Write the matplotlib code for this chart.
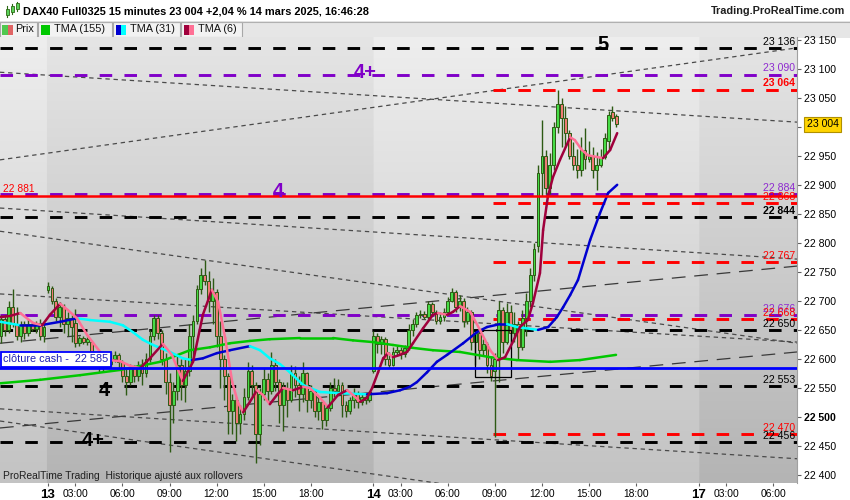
import matplotlib
matplotlib.use("Agg")
import matplotlib.pyplot as plt
import numpy as np
from matplotlib.collections import LineCollection
from matplotlib.patches import Rectangle
from matplotlib.lines import Line2D

plt.rcParams['font.family'] = ['Liberation Sans', 'DejaVu Sans']

# ---- 15 minute candles (bar 12 = 13 mars 01:15, bar 95 = 14 mars 01:15) ----
opens = [22640, 22668, 22650, 22690, 22660, 22640, 22660, 22645, 22660, 22652, 22662, 22640,
         22718, 22722, 22700, 22672, 22690, 22660, 22670, 22662, 22628, 22636, 22630, 22630,
         22605, 22595, 22588, 22600, 22592, 22600, 22606, 22595, 22570, 22560, 22585, 22570,
         22590, 22575, 22600, 22640, 22670, 22645, 22600, 22560, 22520, 22545, 22590, 22555,
         22580, 22640, 22665, 22720, 22745, 22735, 22700, 22715, 22640, 22600, 22570, 22510,
         22530, 22490, 22505, 22535, 22580, 22555, 22470, 22540, 22565, 22545, 22590, 22560,
         22520, 22550, 22530, 22575, 22555, 22540, 22575, 22530, 22545, 22510, 22525, 22495,
         22515, 22550, 22545, 22555, 22520, 22510, 22530, 22540, 22525, 22535, 22530,
         22580, 22640, 22625, 22635, 22600, 22590, 22612, 22615, 22608, 22618, 22650, 22660,
         22675, 22678, 22672, 22695, 22680, 22665, 22672, 22680, 22700, 22715, 22690, 22700,
         22665, 22680, 22630, 22645, 22615, 22625, 22590, 22580, 22600, 22685, 22630, 22680,
         22645, 22660, 22620, 22670, 22700, 22745, 22795, 22920, 22950, 22895, 22935, 23000,
         23040, 23015, 22990, 22950, 22935, 22925, 22960, 22945, 22950, 22925, 22935, 22948,
         22975, 23025, 23018]
highs = [22676, 22675, 22700, 22720, 22690, 22665, 22666, 22668, 22664, 22666, 22668, 22660,
         22732, 22726, 22705, 22698, 22695, 22680, 22676, 22686, 22640, 22640, 22638, 22632,
         22612, 22600, 22606, 22606, 22612, 22614, 22610, 22598, 22585, 22592, 22590, 22596,
         22600, 22610, 22650, 22676, 22676, 22650, 22610, 22575, 22560, 22607, 22600, 22600,
         22660, 22675, 22727, 22757, 22770, 22752, 22740, 22720, 22665, 22607, 22575, 22540,
         22535, 22520, 22550, 22595, 22590, 22560, 22550, 22585, 22575, 22612, 22600, 22565,
         22560, 22560, 22590, 22588, 22570, 22595, 22578, 22555, 22548, 22535, 22530, 22522,
         22560, 22567, 22565, 22560, 22528, 22535, 22550, 22545, 22542, 22542, 22545,
         22648, 22645, 22640, 22638, 22612, 22620, 22622, 22620, 22624, 22660, 22668, 22680,
         22684, 22682, 22700, 22698, 22684, 22680, 22688, 22706, 22722, 22718, 22710, 22705,
         22690, 22684, 22650, 22650, 22635, 22630, 22605, 22610, 22700, 22690, 22696, 22693,
         22680, 22665, 22684, 22713, 22757, 22800, 22934, 23012, 22960, 22955, 23008, 23063,
         23050, 23035, 22995, 22974, 22962, 22982, 22998, 22975, 22965, 22956, 22962, 22990,
         23028, 23035, 23022]
lows = [22628, 22640, 22645, 22655, 22632, 22630, 22635, 22640, 22648, 22645, 22632, 22630,
        22714, 22694, 22665, 22655, 22645, 22640, 22630, 22620, 22622, 22625, 22624, 22598,
        22585, 22578, 22580, 22585, 22588, 22594, 22585, 22560, 22538, 22555, 22560, 22562,
        22555, 22568, 22595, 22632, 22635, 22590, 22540, 22440, 22490, 22530, 22530, 22526,
        22570, 22600, 22660, 22712, 22728, 22680, 22660, 22620, 22550, 22530, 22470, 22470,
        22458, 22470, 22495, 22530, 22535, 22420, 22452, 22530, 22528, 22540, 22545, 22490,
        22476, 22500, 22525, 22535, 22510, 22525, 22508, 22515, 22500, 22495, 22480, 22485,
        22510, 22535, 22538, 22500, 22500, 22505, 22515, 22515, 22520, 22522, 22525,
        22575, 22610, 22608, 22590, 22584, 22588, 22605, 22600, 22604, 22615, 22640, 22655,
        22670, 22668, 22668, 22675, 22660, 22660, 22665, 22675, 22698, 22680, 22682, 22655,
        22660, 22615, 22590, 22600, 22605, 22575, 22562, 22466, 22560, 22610, 22625, 22628,
        22630, 22600, 22615, 22640, 22690, 22735, 22785, 22880, 22885, 22885, 22925, 22990,
        22965, 22965, 22945, 22926, 22912, 22915, 22928, 22940, 22912, 22891, 22930, 22945,
        22962, 23010, 23000]
closes = [22668, 22650, 22690, 22660, 22640, 22660, 22645, 22660, 22652, 22662, 22640, 22655,
          22726, 22700, 22672, 22690, 22660, 22670, 22655, 22628, 22636, 22630, 22634, 22605,
          22595, 22588, 22600, 22592, 22600, 22606, 22595, 22570, 22560, 22585, 22570, 22590,
          22575, 22600, 22640, 22670, 22645, 22600, 22560, 22520, 22545, 22590, 22555, 22580,
          22640, 22665, 22720, 22745, 22735, 22700, 22715, 22640, 22600, 22570, 22510, 22530,
          22490, 22505, 22535, 22580, 22555, 22470, 22540, 22565, 22545, 22590, 22560, 22520,
          22550, 22530, 22575, 22555, 22540, 22575, 22530, 22545, 22510, 22525, 22495, 22515,
          22550, 22545, 22555, 22520, 22510, 22530, 22540, 22525, 22535, 22530, 22540,
          22640, 22625, 22635, 22600, 22590, 22612, 22615, 22608, 22618, 22650, 22660, 22675,
          22678, 22672, 22695, 22680, 22665, 22672, 22680, 22700, 22715, 22690, 22700, 22665,
          22680, 22630, 22645, 22615, 22625, 22590, 22570, 22600, 22685, 22630, 22680, 22645,
          22660, 22620, 22670, 22700, 22745, 22790, 22920, 22950, 22895, 22935, 23000, 23040,
          23015, 22990, 22950, 22935, 22925, 22960, 22945, 22950, 22925, 22935, 22948, 22980,
          23020, 23015, 23004]

# ---- moving averages (bar index, price) ----
tma6_idx = [-0.2, 2.3, 4.9, 8.2, 10.5, 12.5, 15.1, 17.1, 19.4, 22.0, 25.3, 27.8, 30.4, 33.0,
            35.5, 38.0, 41.3, 43.6, 46.4, 49.0, 51.5, 53.8, 55.4, 57.2, 59.0, 60.5, 61.8,
            63.5, 65.3, 66.8, 68.6, 70.4, 72.0, 74.5, 77.1, 78.8, 81.4, 83.4, 86.0, 88.3,
            89.8, 91.6, 93.4, 94.7, 96.2, 97.5, 98.7, 100.0, 101.8, 103.6, 105.1, 107.7,
            110.2, 111.5, 113.8, 115.3, 117.1, 119.7, 122.2, 124.8, 126.8, 128.6, 130.4,
            132.4, 134.4, 135.7, 137.5, 138.3, 139.5, 140.8, 142.6, 145.2, 146.4, 148.2,
            149.7, 152.0, 153.6, 155.4, 157.2]
tma6_val = [22672, 22674, 22679, 22662, 22658, 22676, 22695, 22684, 22670, 22641, 22612, 22598,
            22596, 22588, 22584, 22601, 22626, 22607, 22562, 22595, 22676, 22719, 22698, 22636,
            22560, 22524, 22508, 22526, 22546, 22538, 22522, 22538, 22550, 22546, 22552, 22550,
            22533, 22517, 22538, 22546, 22538, 22526, 22533, 22550, 22577, 22601, 22610, 22603,
            22607, 22612, 22627, 22653, 22676, 22679, 22676, 22681, 22691, 22681, 22650, 22615,
            22598, 22603, 22627, 22655, 22667, 22696, 22748, 22822, 22879, 22913, 22943, 22982,
            22977, 22960, 22951, 22948, 22946, 22960, 22989]
tma31_idx = [-0.2, 4.9, 10.0, 15.1, 19.4, 22.7, 27.8, 31.1, 33.7, 36.2, 38.8, 43.1, 46.4,
             48.7, 51.5, 55.1, 58.4, 63.5, 66.1, 68.6, 71.2, 73.7, 77.1, 81.4, 86.5, 93.4,
             98.5, 101.8, 104.3, 106.1, 108.7, 111.2, 113.8, 117.9, 121.4, 124.0, 127.3,
             129.1, 131.6, 137.0, 139.6, 141.8, 143.4, 145.2, 147.2, 150.3, 152.8, 154.9, 157.2]
tma31_val = [22664, 22658, 22658, 22664, 22670, 22667, 22664, 22658, 22646, 22633, 22624, 22612,
             22601, 22598, 22601, 22610, 22615, 22622, 22615, 22601, 22591, 22577, 22555, 22543,
             22541, 22539, 22541, 22546, 22552, 22560, 22577, 22595, 22607, 22627, 22646, 22655,
             22660, 22660, 22655, 22650, 22655, 22672, 22689, 22710, 22736, 22805, 22851, 22886,
             22900]
tma155_idx = [-0.2, 10.0, 20.2, 30.4, 40.6, 48.2, 53.3, 58.4, 63.5, 68.6, 76.3, 84.7, 89.8,
              94.9, 100.0, 105.1, 110.2, 117.1, 124.8, 131.6, 140.1, 147.7, 156.9]
tma155_val = [22558, 22564, 22572, 22581, 22595, 22615, 22620, 22627, 22631, 22634, 22636, 22636,
              22632, 22629, 22624, 22619, 22615, 22612, 22603, 22598, 22595, 22598, 22607]

# ---- horizontal levels ----
black_levels = [23136, 22844, 22650, 22553, 22456]
purple_levels = [23090, 22884, 22676]
red_levels = [23064, 22868, 22767, 22668, 22470]
bold_levels = [23064, 22844]
red_start = 125.6
red_solid = 22881
cash_close = 22585
last_price = 23004

# trend lines: (start bar, start price, end bar, end price)
short_trends = [(-0.25, 23094, 203.1, 23008), (-0.25, 22943, 203.1, 23136),
                (-0.25, 22860, 203.1, 22772), (-0.25, 22820, 203.1, 22627),
                (-0.25, 22712, 203.1, 22629), (-0.25, 22514, 203.1, 22428),
                (-0.25, 22493, 203.1, 22298)]
long_trends = [(-0.25, 22627, 203.1, 22760), (-0.25, 22481, 203.1, 22612)]

wave_labels = [("5", 153.6, 23141, 'black'), ("4+", 92.9, 23094, '#8000c8'),
               ("4", 70.7, 22889, '#8000c8'), ("4", 26.3, 22545, 'black'),
               ("4+", 23.5, 22459, 'black')]

tick_idx = [12, 19, 31, 43, 55, 67, 79, 95, 102, 114, 126, 138, 150, 162, 178, 185, 197]
tick_lbl = ["13", "03:00", "06:00", "09:00", "12:00", "15:00", "18:00",
            "14", "03:00", "06:00", "09:00", "12:00", "15:00", "18:00",
            "17", "03:00", "06:00"]
day_bounds = [11.5, 95.0, 178.2]

W, H = 850, 500
def fx(px):
    return px / W
def fy(py):
    return 1 - py / H

fig = plt.figure(figsize=(8.5, 5), dpi=100, facecolor='white')
ax = fig.add_axes([0, fy(483), fx(797), (483 - 37) / H])
ax.set_zorder(5)
xmin, xmax = -0.245, 203.07
ymin, ymax = 22386.2, 23154.7
ax.set_xlim(xmin, xmax)
ax.set_ylim(ymin, ymax)

# background with alternating day bands and vertical gradient
cols = np.linspace(xmin, xmax, 800)
dark = np.zeros(cols.shape, dtype=bool)
dark[(cols >= day_bounds[0]) & (cols < day_bounds[1])] = True
dark[cols >= day_bounds[2]] = True
t = np.linspace(0, 1, 446)[:, None, None]
light_top, light_bot = np.array([238, 238, 238]) / 255, np.array([195, 195, 195]) / 255
dark_top, dark_bot = np.array([229, 229, 229]) / 255, np.array([180, 180, 180]) / 255
lg = light_top + (light_bot - light_top) * t
dg = dark_top + (dark_bot - dark_top) * t
img = np.where(dark[None, :, None], dg, lg)
ax.imshow(img, extent=(xmin, xmax, ymin, ymax), aspect='auto', origin='upper', zorder=0)

# trend lines
for x0, y0, x1, y1 in short_trends:
    ax.plot([x0, x1], [y0, y1], color='#4a4a4a', lw=0.9, ls=(0, (3.5, 3.0)), zorder=2)
for x0, y0, x1, y1 in long_trends:
    ax.plot([x0, x1], [y0, y1], color='#3a3a3a', lw=0.9, ls=(0, (11, 7)), zorder=2)

dash = (0, (4.3, 4.2))
for lv in black_levels:
    ax.plot([xmin, xmax], [lv, lv], color='black', lw=2.1, ls=dash, zorder=4)
for lv in purple_levels:
    ax.plot([xmin, xmax], [lv, lv], color='#8000c8', lw=2.1, ls=dash, zorder=4)
for lv in red_levels:
    ax.plot([red_start, xmax], [lv, lv], color='#ff0000', lw=2.1, ls=dash, zorder=4)

# candles
idx = np.arange(len(closes))
o = np.array(opens); c = np.array(closes)
ax.vlines(idx, lows, highs, color='#2d5a14', lw=1.0, zorder=5)
up = c >= o
body_lo = np.minimum(o, c)
body_h = np.maximum(np.abs(c - o), 1.5)
ax.bar(idx[up], body_h[up], bottom=body_lo[up], width=0.72, color='#46dc46',
       edgecolor='#2d5a14', linewidth=0.7, zorder=6)
ax.bar(idx[~up], body_h[~up], bottom=body_lo[~up], width=0.72, color='#f07a74',
       edgecolor='#2d5a14', linewidth=0.7, zorder=6)

ax.add_patch(Rectangle((121, 22569), 9, 81, fill=False, ec='black', lw=0.9, zorder=6))

def tma(ix, vals, up_col, down_col, lw):
    pts = np.column_stack([ix, vals])
    segs = np.stack([pts[:-1], pts[1:]], axis=1)
    colors = [up_col if b >= a else down_col for a, b in zip(vals[:-1], vals[1:])]
    ax.add_collection(LineCollection(segs, colors=colors, linewidths=lw, zorder=7,
                                     capstyle='round', joinstyle='round'))

tma(tma155_idx, tma155_val, '#00c800', '#00c800', 1.8)
tma(tma31_idx, tma31_val, '#0000d0', '#00ffff', 1.8)
tma(tma6_idx, tma6_val, '#a0003c', '#ff7095', 1.8)

ax.axhline(red_solid, color='#ff0000', lw=1.8, zorder=8)
ax.axhline(cash_close, color='#0000ff', lw=2.0, zorder=8)

def fmt(v):
    return f"{int(v):,}".replace(",", " ")

# right-hand level labels
for lv in black_levels + purple_levels + red_levels:
    col = 'black' if lv in black_levels else ('#8e2ad0' if lv in purple_levels else '#ff0000')
    ax.text(202.6, lv + 2, fmt(lv), ha='right', va='bottom', fontsize=7.6, color=col,
            fontweight='bold' if lv in bold_levels else 'normal', zorder=9)

ax.text(0.4, red_solid + 3, fmt(red_solid), ha='left', va='bottom', fontsize=7.4,
        color='#ff0000', zorder=9)
ax.text(0.6, cash_close + 6, "clôture cash -  " + fmt(cash_close), ha='left', va='bottom',
        fontsize=7.8, color='#1e1eb4', zorder=10,
        bbox=dict(boxstyle='square,pad=0.22', fc='white', ec='#0000ff', lw=1.3))

for txt, x, y, col in wave_labels:
    ax.text(x, y, txt, ha='center', va='center', fontsize=14.5, fontweight='bold',
            color=col, zorder=9)

ax.text(0.4, 22398, "ProRealTime Trading  Historique ajusté aux rollovers", ha='left',
        va='center', fontsize=7.4, color='#202020', zorder=9)

# axes styling
for s in ['left', 'top', 'bottom']:
    ax.spines[s].set_visible(False)
ax.spines['right'].set_color('#a0a0a0')
ax.spines['right'].set_linewidth(0.8)
ax.yaxis.tick_right()
yt = list(range(22400, 23151, 50))
ax.set_yticks(yt)
# the 23 000 label sits under the last-price box, as in the original
ax.set_yticklabels(["" if v == 23000 else fmt(v) for v in yt])
ax.tick_params(axis='y', direction='out', length=3, width=0.8, colors='#606060',
               labelcolor='black', labelsize=7.6, pad=2)
for lab in ax.get_yticklabels():
    if lab.get_text() == "22 500":
        lab.set_fontweight('bold')
ax.set_xticks(tick_idx)
ax.set_xticklabels(tick_lbl)
ax.tick_params(axis='x', direction='out', length=2, width=0.8, colors='#606060',
               labelcolor='black', labelsize=7.4, pad=2)
for lab in ax.get_xticklabels():
    if ':' not in lab.get_text():
        lab.set_fontweight('bold')
        lab.set_fontsize(9.5)

# current price box
ax.text(1.012, last_price, fmt(last_price), transform=ax.get_yaxis_transform(),
        ha='left', va='center', fontsize=7.6, color='black', zorder=10, clip_on=False,
        bbox=dict(boxstyle='square,pad=0.2', fc='#ffd400', ec='#b09000', lw=0.8))

# header bar
fig.patches.append(Rectangle((0, fy(21)), 1, 21 / H, transform=fig.transFigure,
                             fc='white', ec='none', zorder=0))
fig.patches.append(Rectangle((0, fy(38)), 1, 17 / H, transform=fig.transFigure,
                             fc='#e6e6e6', ec='none', zorder=0))
fig.add_artist(Line2D([0, 1], [fy(21.5), fy(21.5)], color='#b0b0b0', lw=0.8))
for x0, x1 in [(0, 37), (38, 112), (113, 180), (181, 242)]:
    fig.patches.append(Rectangle((fx(x0), fy(37)), fx(x1 - x0), 15 / H,
                                 transform=fig.transFigure, fc='#f2f2f2', ec='#a8a8a8',
                                 lw=0.8, zorder=1))
icons = [(2, 7.5, '#50c850'), (7.5, 13, '#e06464'), (41, 50, '#00c800'),
         (116, 121, '#0000d0'), (121, 126, '#00ffff'), (184, 189, '#a0003c'),
         (189, 194, '#ff7095')]
for x0, x1, col in icons:
    fig.patches.append(Rectangle((fx(x0), fy(35)), fx(x1 - x0), 10 / H,
                                 transform=fig.transFigure, fc=col, ec='none', zorder=2))
for lx, txt in [(15, "Prix"), (54, "TMA (155)"), (130, "TMA (31)"), (198, "TMA (6)")]:
    fig.text(fx(lx), fy(29.5), txt, ha='left', va='center', fontsize=7.8, color='#101010')

# small candle icon in title
for cx, top, bot, wt, wb in [(7, 9, 15, 6, 17), (12, 6, 12, 4, 14), (17, 3, 9, 2, 11)]:
    fig.add_artist(Line2D([fx(cx), fx(cx)], [fy(wt), fy(wb)], color='#2d6a14', lw=0.8))
    fig.patches.append(Rectangle((fx(cx - 1.5), fy(bot)), fx(3), (bot - top) / H,
                                 transform=fig.transFigure, fc='#5ad25a', ec='#2d6a14',
                                 lw=0.6, zorder=2))
fig.text(fx(23), fy(11.5), "DAX40 Full0325 15 minutes 23 004 +2,04 % 14 mars 2025, 16:46:28",
         ha='left', va='center', fontsize=7.9, fontweight='bold', color='black')
fig.text(fx(845), fy(11.5), "Trading.ProRealTime.com", ha='right', va='center',
         fontsize=7.8, fontweight='bold', color='#202020')

fig.savefig('out.png', dpi=100)
